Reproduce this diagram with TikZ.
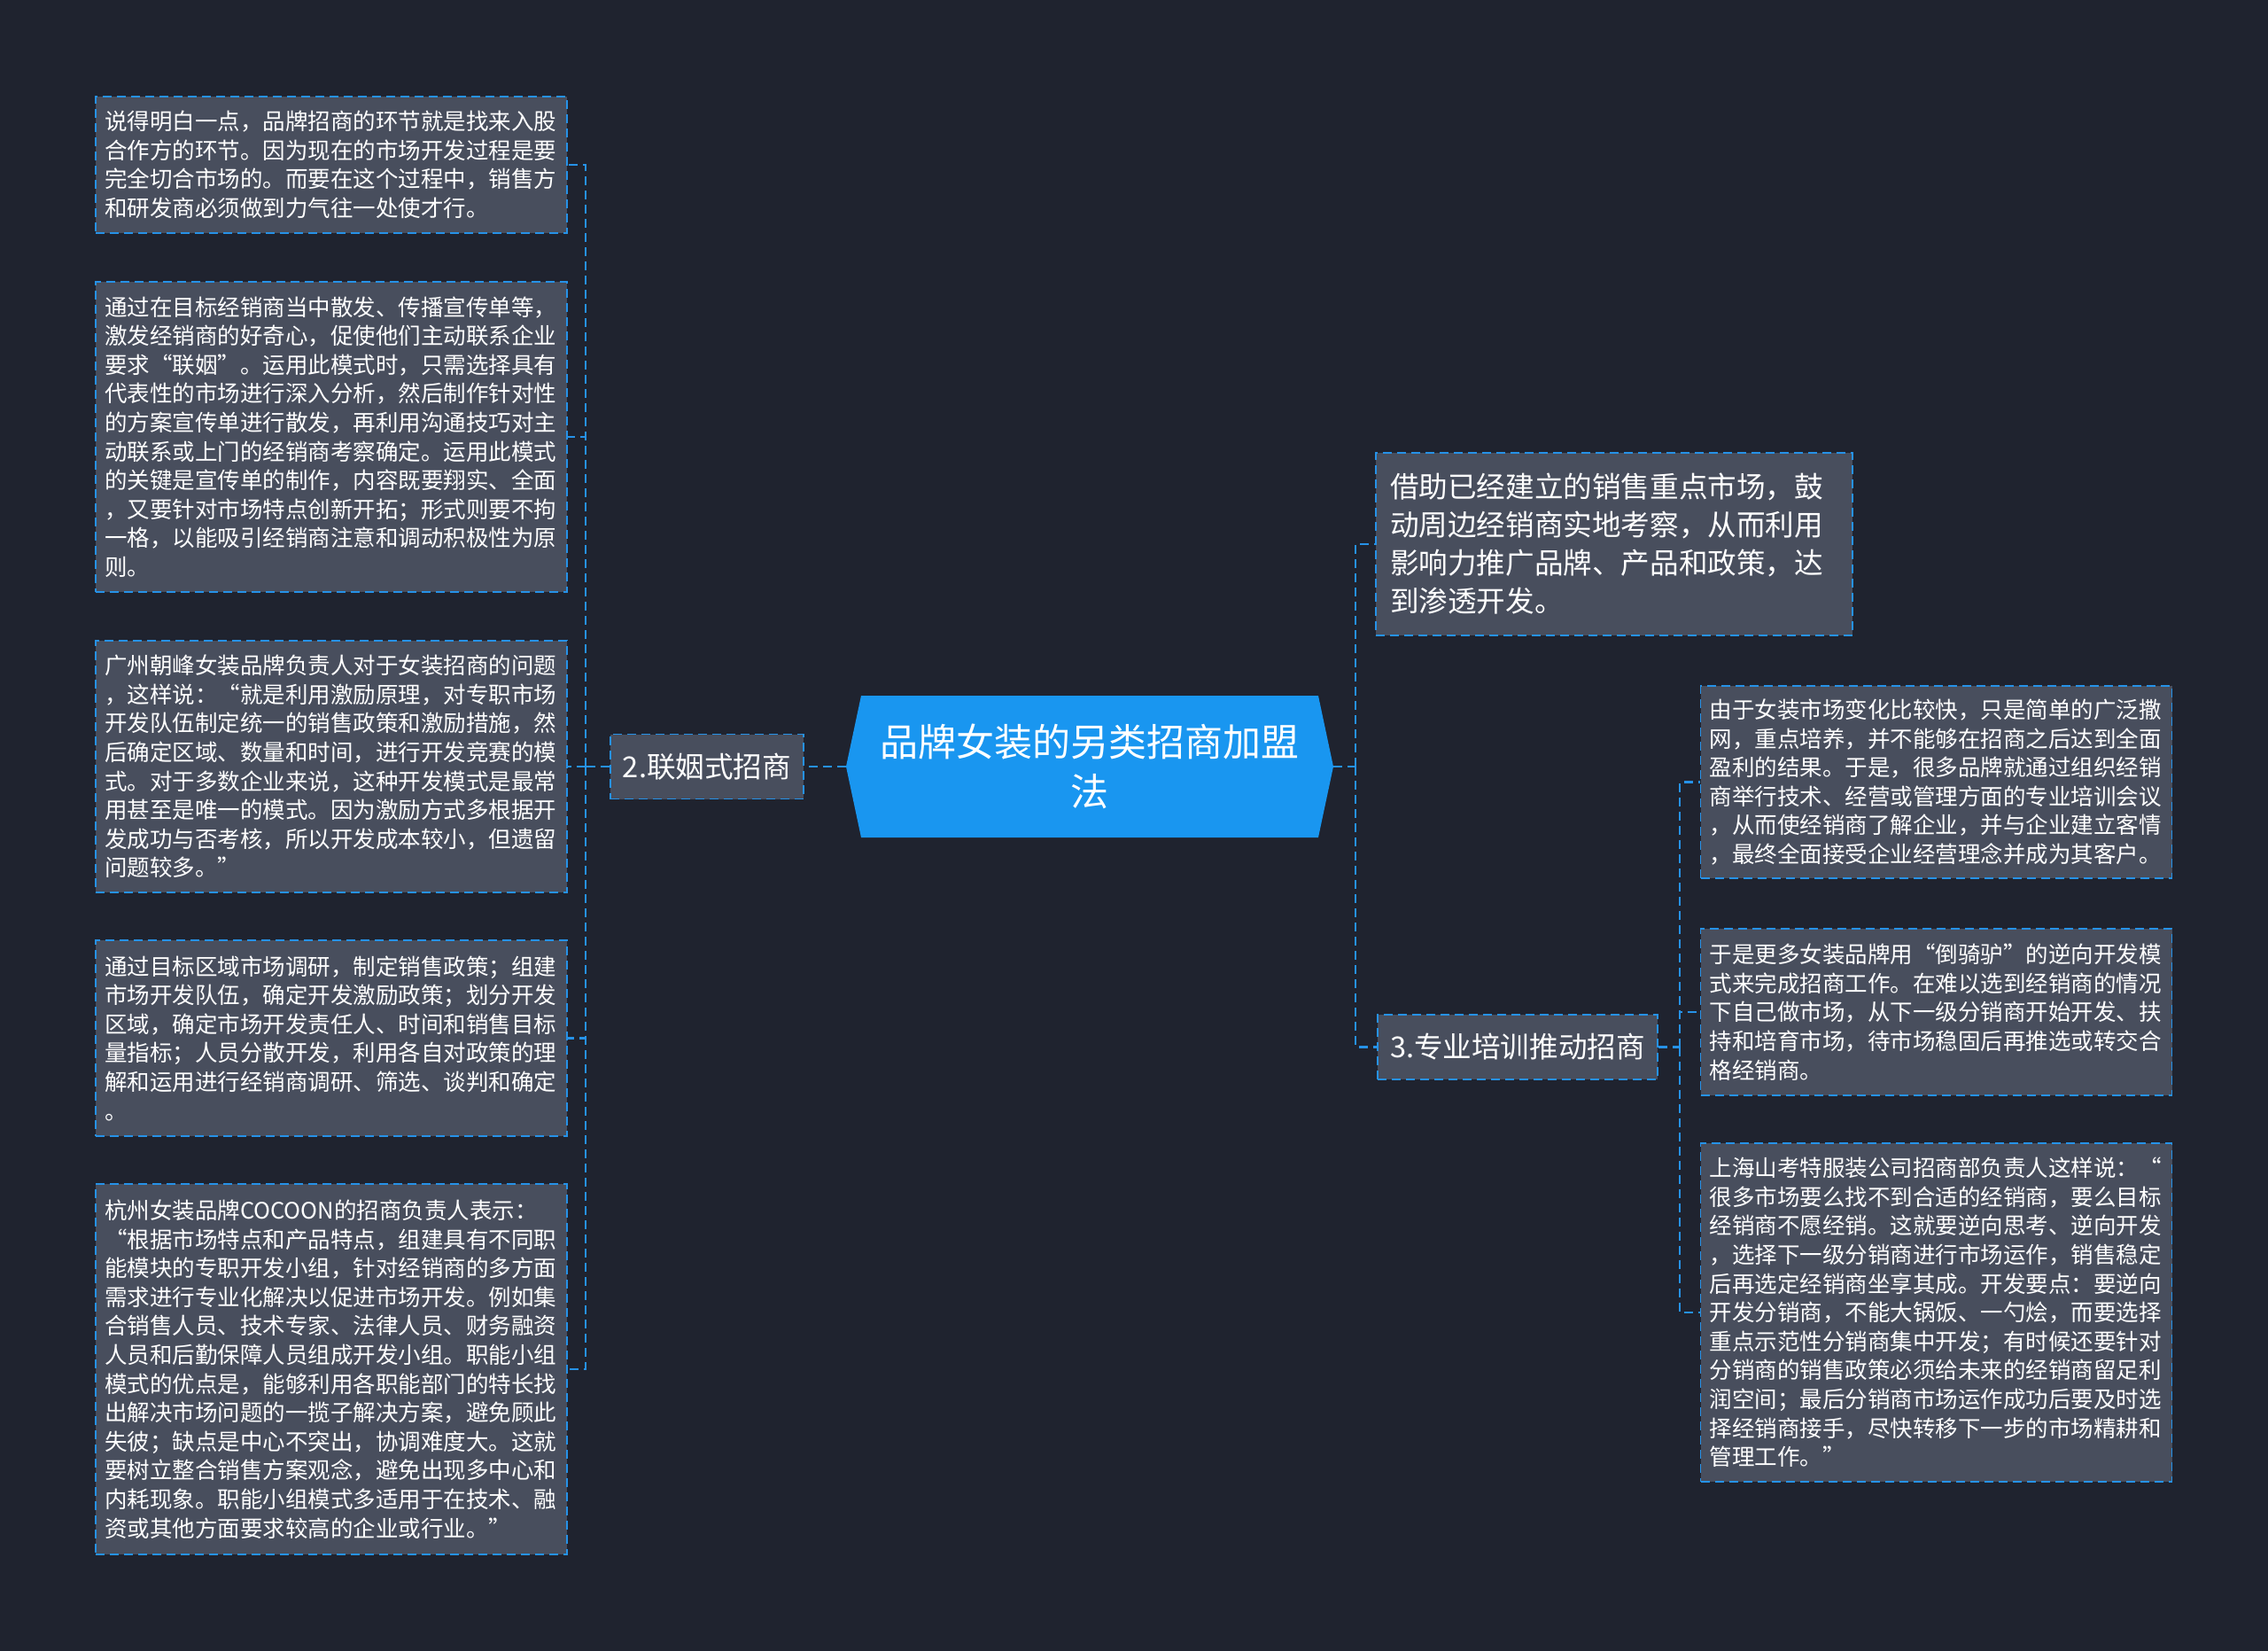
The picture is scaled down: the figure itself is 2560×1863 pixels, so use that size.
\documentclass[tikz,border=0pt]{standalone}
\usepackage{fontspec}
\setmainfont{Noto Sans CJK SC}
\usetikzlibrary{shapes.symbols}
\definecolor{bgnavy}{RGB}{31,35,47}
\definecolor{boxgrey}{RGB}{72,78,93}
\definecolor{linkblue}{RGB}{38,146,232}
\definecolor{hubblue}{RGB}{25,150,240}
\tikzset{
  note/.style={rectangle,draw=linkblue,dash pattern=on 5pt off 3pt,line width=0.9pt,fill=boxgrey,text=white,align=left,text width=256pt,minimum width=266pt,inner xsep=5pt,font=\fontsize{12.75}{16.3}\selectfont},
  bignote/.style={note,text width=253pt,minimum width=269pt,inner xsep=8pt,font=\fontsize{16.3}{21.5}\selectfont},
  branch/.style={rectangle,draw=linkblue,dash pattern=on 5pt off 3pt,line width=0.9pt,fill=boxgrey,text=white,minimum height=36.5pt,inner xsep=7pt,font=\fontsize{16.3}{21.5}\selectfont},
  hub/.style={signal,signal to=east and west,signal pointer angle=156,fill=hubblue,text=white,align=center,text width=245pt,minimum width=275pt,minimum height=80pt,font=\fontsize{21.5}{27.7}\selectfont},
  link/.style={draw=linkblue,line width=1.2pt,dash pattern=on 5pt off 3pt}
}
\begin{document}
\begin{tikzpicture}[x=0.5pt,y=-0.5pt]
  \useasboundingbox (0,0) rectangle (2560,1863);
  \fill[bgnavy] (0,0) rectangle (2560,1863);

  % centre and branches
  \node[hub] (hub) at (1230,865) {品牌女装的另类招商加盟\\法};
  \node[branch] (b2) at (798,865) {2.联姻式招商};
  \node[branch] (b3) at (1713,1181.5) {3.专业培训推动招商};

  % left notes
  \node[note,minimum height=77pt] (l1) at (374,186) {说得明白一点，品牌招商的环节就是找来入股\\合作方的环节。因为现在的市场开发过程是要\\完全切合市场的。而要在这个过程中，销售方\\和研发商必须做到力气往一处使才行。};
  \node[note,minimum height=175pt] (l2) at (374,493) {通过在目标经销商当中散发、传播宣传单等，\\激发经销商的好奇心，促使他们主动联系企业\\要求“联姻”。运用此模式时，只需选择具有\\代表性的市场进行深入分析，然后制作针对性\\的方案宣传单进行散发，再利用沟通技巧对主\\动联系或上门的经销商考察确定。运用此模式\\的关键是宣传单的制作，内容既要翔实、全面\\，又要针对市场特点创新开拓；形式则要不拘\\一格，以能吸引经销商注意和调动积极性为原\\则。};
  \node[note,minimum height=142pt] (l3) at (374,865) {广州朝峰女装品牌负责人对于女装招商的问题\\，这样说：“就是利用激励原理，对专职市场\\开发队伍制定统一的销售政策和激励措施，然\\后确定区域、数量和时间，进行开发竞赛的模\\式。对于多数企业来说，这种开发模式是最常\\用甚至是唯一的模式。因为激励方式多根据开\\发成功与否考核，所以开发成本较小，但遗留\\问题较多。”};
  \node[note,minimum height=110.5pt] (l4) at (374,1171.5) {通过目标区域市场调研，制定销售政策；组建\\市场开发队伍，确定开发激励政策；划分开发\\区域，确定市场开发责任人、时间和销售目标\\量指标；人员分散开发，利用各自对政策的理\\解和运用进行经销商调研、筛选、谈判和确定\\。};
  \node[note,minimum height=209pt] (l5) at (374,1545) {杭州女装品牌COCOON的招商负责人表示：\\“根据市场特点和产品特点，组建具有不同职\\能模块的专职开发小组，针对经销商的多方面\\需求进行专业化解决以促进市场开发。例如集\\合销售人员、技术专家、法律人员、财务融资\\人员和后勤保障人员组成开发小组。职能小组\\模式的优点是，能够利用各职能部门的特长找\\出解决市场问题的一揽子解决方案，避免顾此\\失彼；缺点是中心不突出，协调难度大。这就\\要树立整合销售方案观念，避免出现多中心和\\内耗现象。职能小组模式多适用于在技术、融\\资或其他方面要求较高的企业或行业。”};

  % right notes
  \node[bignote,minimum height=103pt] (r1) at (1822,614) {借助已经建立的销售重点市场，鼓\\动周边经销商实地考察，从而利用\\影响力推广品牌、产品和政策，达\\到渗透开发。};
  \node[note,minimum height=108.5pt] (s1) at (2185.5,882.5) {由于女装市场变化比较快，只是简单的广泛撒\\网，重点培养，并不能够在招商之后达到全面\\盈利的结果。于是，很多品牌就通过组织经销\\商举行技术、经营或管理方面的专业培训会议\\，从而使经销商了解企业，并与企业建立客情\\，最终全面接受企业经营理念并成为其客户。};
  \node[note,minimum height=94pt] (s2) at (2185.5,1142) {于是更多女装品牌用“倒骑驴”的逆向开发模\\式来完成招商工作。在难以选到经销商的情况\\下自己做市场，从下一级分销商开始开发、扶\\持和培育市场，待市场稳固后再推选或转交合\\格经销商。};
  \node[note,minimum height=191pt] (s3) at (2185.5,1481) {上海山考特服装公司招商部负责人这样说：“\\很多市场要么找不到合适的经销商，要么目标\\经销商不愿经销。这就要逆向思考、逆向开发\\，选择下一级分销商进行市场运作，销售稳定\\后再选定经销商坐享其成。开发要点：要逆向\\开发分销商，不能大锅饭、一勺烩，而要选择\\重点示范性分销商集中开发；有时候还要针对\\分销商的销售政策必须给未来的经销商留足利\\润空间；最后分销商市场运作成功后要及时选\\择经销商接手，尽快转移下一步的市场精耕和\\管理工作。”};

  % connectors
  \coordinate (lbus) at (661,865);
  \coordinate (rbus) at (1530,865);
  \coordinate (sbus) at (1896,1181.5);
  \draw[link] (hub.west) -- (b2.east);
  \draw[link] (b2.west) -- (lbus);
  \foreach \n in {l1,l2,l3,l4,l5}
    \draw[link] (lbus) |- (\n.east);
  \draw[link] (hub.east) -- (rbus);
  \foreach \n in {r1,b3}
    \draw[link] (rbus) |- (\n.west);
  \draw[link] (b3.east) -- (sbus);
  \foreach \n in {s1,s2,s3}
    \draw[link] (sbus) |- (\n.west);
\end{tikzpicture}
\end{document}
